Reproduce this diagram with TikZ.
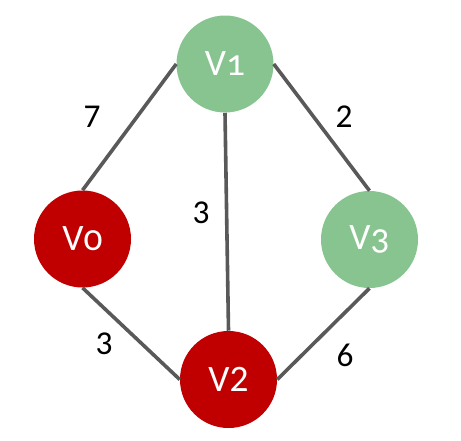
\documentclass[tikz,border=0pt]{standalone}
\usepackage{fontspec}
\setmainfont{Carlito}
\definecolor{vgreen}{RGB}{136,196,144}
\definecolor{vred}{RGB}{192,0,0}
\definecolor{edgegray}{RGB}{89,89,89}
\begin{document}
\begin{tikzpicture}[x=0.75pt,y=-0.75pt,
  vnode/.style={circle,minimum size=72.75pt,inner sep=0pt,text=white,font=\fontsize{28}{30}\selectfont},
  gnode/.style={vnode,fill=vgreen},
  rnode/.style={vnode,fill=vred},
  edge/.style={draw=edgegray,line width=2.7pt},
  wlabel/.style={font=\fontsize{25}{27}\selectfont,text=black}]
\useasboundingbox (0,0) rectangle (461,440);
\node[gnode] (v1) at (225,64) {V{\addfontfeature{Numbers=OldStyle}1}};
\node[rnode] (v0) at (82.5,239) {V{\addfontfeature{Numbers=OldStyle}0}};
\node[gnode] (v3) at (369.5,239.5) {V{\addfontfeature{Numbers=OldStyle}3}};
\node[rnode] (v2) at (228.5,379.5) {V2};
\draw[edge] (v0.north) -- (v1.west);
\draw[edge] (v1.south) -- (v2.north);
\draw[edge] (v1.east) -- (v3.north);
\draw[edge] (v0.south) -- (v2.west);
\draw[edge] (v2.east) -- (v3.south);
\node[wlabel] (l7) at (92,117) {7};
\node[wlabel] (l2) at (344,117) {2};
\node[wlabel] (l3a) at (201,213) {3};
\node[wlabel] (l3b) at (104,344) {3};
\node[wlabel] (l6) at (345,355) {6};
\end{tikzpicture}
\end{document}
